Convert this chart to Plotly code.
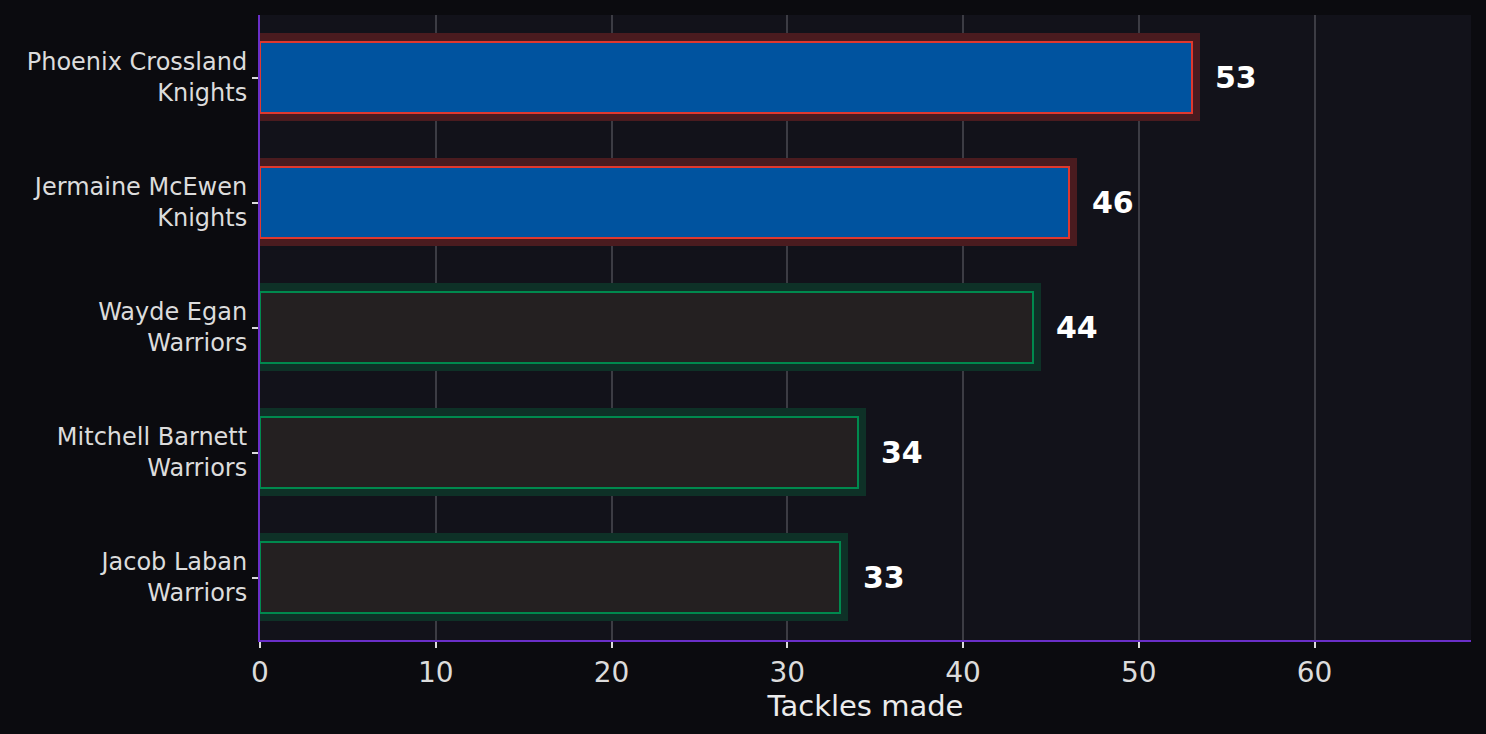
import plotly.graph_objects as go

players = ["Phoenix Crossland", "Jermaine McEwen", "Wayde Egan", "Mitchell Barnett", "Jacob Laban"]
teams = ["Knights", "Knights", "Warriors", "Warriors", "Warriors"]
tackles = [53, 46, 44, 34, 33]
x_ticks = [0, 10, 20, 30, 40, 50, 60]

team_fill = {"Knights": "#00539f", "Warriors": "#242021"}
team_edge = {"Knights": "#e0382e", "Warriors": "#00894e"}
team_glow = {"Knights": "#4a1b1f", "Warriors": "#0e3127"}

labels = [f"{p}<br>{t}" for p, t in zip(players, teams)]

fig = go.Figure()
fig.add_trace(go.Bar(
    y=labels, x=tackles, orientation="h", width=0.57,
    marker=dict(color=[team_glow[t] for t in teams],
                line=dict(color=[team_glow[t] for t in teams], width=17)),
    hoverinfo="skip", showlegend=False,
))
fig.add_trace(go.Bar(
    y=labels, x=tackles, orientation="h", width=0.57,
    marker=dict(color=[team_fill[t] for t in teams],
                line=dict(color=[team_edge[t] for t in teams], width=2)),
    showlegend=False,
))

for lab, v in zip(labels, tackles):
    fig.add_annotation(x=v, y=lab, text=f"<b>{v}</b>", showarrow=False,
                       xanchor="left", yanchor="middle", xshift=21,
                       font=dict(family="DejaVu Sans", size=30, color="#ffffff"))

fig.update_layout(
    width=1486, height=734,
    margin=dict(l=260, r=15, t=15, b=94),
    paper_bgcolor="#0b0b0f", plot_bgcolor="#12121a",
    barmode="overlay", bargap=0,
    font=dict(family="DejaVu Sans", color="#dcdcdc"),
)
fig.update_xaxes(
    range=[0, 68.9], tickvals=x_ticks,
    showgrid=True, gridcolor="#3c3c44", gridwidth=1.5,
    zeroline=False, showline=True, linecolor="#6a2fc8", linewidth=2,
    ticks="outside", ticklen=6, tickcolor="#dcdcdc", tickwidth=1.5,
    tickfont=dict(size=28, color="#dcdcdc"),
    title=dict(text="Tackles made", font=dict(size=29, color="#ececec"), standoff=5),
)
fig.update_yaxes(
    categoryorder="array", categoryarray=labels, autorange="reversed",
    showgrid=False, zeroline=False, showline=True, linecolor="#6a2fc8", linewidth=2,
    ticks="outside", ticklen=6, tickcolor="#dcdcdc", tickwidth=1.5,
    tickfont=dict(size=24, color="#dcdcdc"),
)

fig.write_html("out.html", config={"displayModeBar": False})

with open("out.html", encoding="utf-8") as f:
    html = f.read()
html = html.replace("<head>", "<head><style>html,body{margin:0;padding:0;background:#0b0b0f;}</style>", 1)
with open("out.html", "w", encoding="utf-8") as f:
    f.write(html)
